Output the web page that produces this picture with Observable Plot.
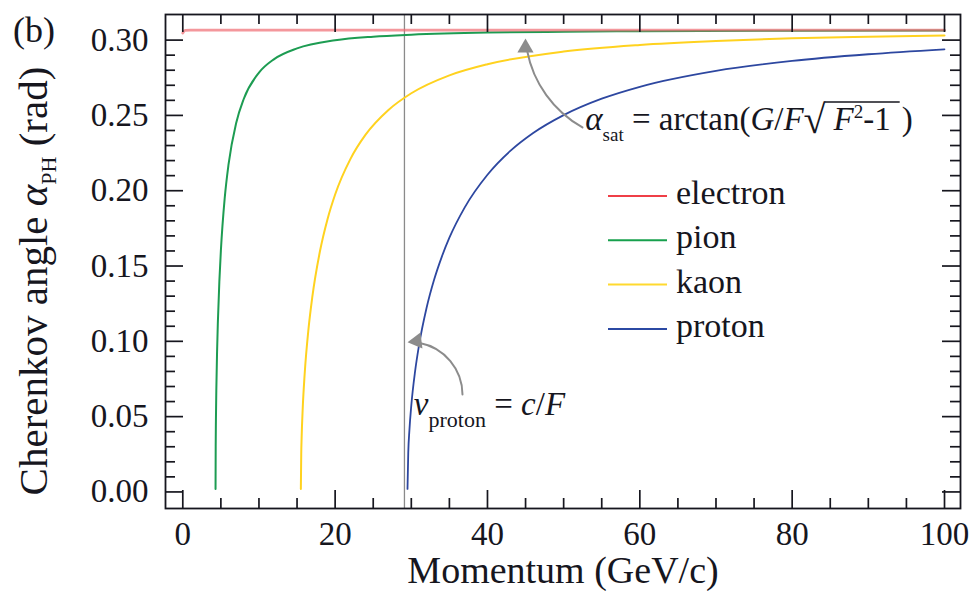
<!DOCTYPE html>
<html>
<head>
<meta charset="utf-8">
<script src="https://cdn.jsdelivr.net/npm/d3@7"></script>
<script src="https://cdn.jsdelivr.net/npm/@observablehq/plot@0.6"></script>
<style>
  html, body { margin: 0; padding: 0; background: #fff; }
</style>
</head>
<body>
<div id="chart"></div>
<script>
// Cherenkov angle alpha_PH (rad) versus particle momentum (GeV/c)
const electronP = [0, 0.3, 1, 10, 50, 100];
const electronAlpha = [0.3047, 0.3064, 0.3066, 0.3066, 0.3066, 0.3066];

const pionP = [4.3, 4.32, 4.35, 4.4, 4.5, 4.6, 4.8, 5, 5.5, 6, 7, 8, 10, 12, 15, 20, 25, 30, 40, 50, 60, 80, 100];
const pionAlpha = [0.002, 0.0304, 0.0478, 0.0670, 0.0930, 0.1120, 0.1398, 0.1602, 0.1949, 0.2173, 0.2448, 0.2609, 0.2784, 0.2874, 0.2945, 0.2999, 0.3023, 0.3036, 0.3050, 0.3055, 0.3059, 0.3062, 0.3063];

const kaonP = [15.5, 15.55, 15.6, 15.75, 16, 16.5, 17, 18, 19, 20, 22, 24, 27, 30, 35, 40, 50, 60, 70, 80, 90, 100];
const kaonAlpha = [0.002, 0.0254, 0.0358, 0.0561, 0.0783, 0.1081, 0.1293, 0.1596, 0.1811, 0.1975, 0.2210, 0.2372, 0.2536, 0.2647, 0.2766, 0.2840, 0.2924, 0.2968, 0.2994, 0.3012, 0.3023, 0.3031];

const protonP = [29.5, 29.6, 29.75, 30, 30.5, 31, 32, 33, 34, 35, 37, 40, 43, 46, 50, 55, 60, 70, 80, 90, 100];
const protonAlpha = [0.002, 0.0260, 0.0409, 0.0575, 0.0802, 0.0970, 0.1221, 0.1410, 0.1561, 0.1688, 0.1888, 0.2106, 0.2264, 0.2383, 0.2502, 0.2611, 0.2690, 0.2796, 0.2862, 0.2906, 0.2939];

// momentum at which v_proton = c/F
const protonThreshold = 29.1;

const species = ["electron", "pion", "kaon", "proton"];
const xTicks = [0, 20, 40, 60, 80, 100];
const yTicks = [0, 0.05, 0.10, 0.15, 0.20, 0.25, 0.30];

const series = {
  electron: {p: electronP, a: electronAlpha, stroke: "#ef6b72", width: 2.8, opacity: 0.7, key: "#ef3f47"},
  pion:     {p: pionP,     a: pionAlpha,     stroke: "#1d9c52", width: 2.0, opacity: 1,   key: "#17a04d"},
  kaon:     {p: kaonP,     a: kaonAlpha,     stroke: "#ffd21f", width: 2.0, opacity: 1,   key: "#ffd92f"},
  proton:   {p: protonP,   a: protonAlpha,   stroke: "#2d47a0", width: 1.8, opacity: 1,   key: "#2b49a3"}
};
const rows = s => series[s].p.map((p, i) => ({p, a: series[s].a[i]}));

const W = 973, H = 591;
const M = {top: 14, right: 13, bottom: 83, left: 165};
const innerW = W - M.left - M.right;
const innerH = H - M.top - M.bottom;
const majorLen = 18, minorLen = 10;
const xMinor = d3.range(0, 101, 5).filter(v => v % 20 !== 0);
const yMinor = d3.range(0, 31).map(v => v / 100).filter((v, i) => i % 5 !== 0);
const ink = "#16161e";
const tickStyle = {stroke: ink, strokeWidth: 1.7};
const serif = '"Liberation Serif", "Times New Roman", Times, serif';

const plot = Plot.plot({
  width: W,
  height: H,
  marginTop: M.top,
  marginRight: M.right,
  marginBottom: M.bottom,
  marginLeft: M.left,
  style: {fontFamily: serif, fontSize: "33px", color: ink, background: "#fff"},
  x: {domain: [-2.27, 102.1]},
  y: {domain: [-0.011, 0.317]},
  marks: [
    Plot.ruleX([protonThreshold], {stroke: "#8a8a8a", strokeWidth: 1.3}),
    ...["proton", "kaon", "pion", "electron"].map(s =>
      Plot.line(rows(s), {x: "p", y: "a", curve: "monotone-x",
        stroke: series[s].stroke, strokeWidth: series[s].width, strokeOpacity: series[s].opacity})),

    // curved annotation arrows
    Plot.arrow([{x1: 52.47, y1: 0.2420, x2: 44.99, y2: 0.3009}],
      {x1: "x1", y1: "y1", x2: "x2", y2: "y2", bend: 28, headLength: 0, insetEnd: 12,
       stroke: "#8c8c8c", strokeWidth: 2}),
    Plot.dot([{x: 44.99, y: 0.3009}], {x: "x", y: "y", symbol: "triangle", r: 6, rotate: 0, dy: 9,
       fill: "#8c8c8c", stroke: "none"}),
    Plot.arrow([{x1: 36.72, y1: 0.0647, x2: 29.54, y2: 0.0995}],
      {x1: "x1", y1: "y1", x2: "x2", y2: "y2", bend: -46, headLength: 0, insetEnd: 12,
       stroke: "#8c8c8c", strokeWidth: 2}),
    Plot.dot([{x: 29.54, y: 0.0995}], {x: "x", y: "y", symbol: "triangle", r: 6, rotate: -97, dx: 9, dy: -1,
       fill: "#8c8c8c", stroke: "none"}),

    // inward ticks on all four sides
    Plot.tickX(xTicks, {x: d => d, insetTop: innerH - majorLen, ...tickStyle}),
    Plot.tickX(xMinor, {x: d => d, insetTop: innerH - minorLen, ...tickStyle}),
    Plot.tickX(xTicks, {x: d => d, insetBottom: innerH - majorLen, ...tickStyle}),
    Plot.tickX(xMinor, {x: d => d, insetBottom: innerH - minorLen, ...tickStyle}),
    Plot.tickY(yTicks, {y: d => d, insetRight: innerW - majorLen, ...tickStyle}),
    Plot.tickY(yMinor, {y: d => d, insetRight: innerW - minorLen, ...tickStyle}),
    Plot.tickY(yTicks, {y: d => d, insetLeft: innerW - majorLen, ...tickStyle}),
    Plot.tickY(yMinor, {y: d => d, insetLeft: innerW - minorLen, ...tickStyle}),

    Plot.axisX(xTicks, {tickSize: 0, tickPadding: 13, fontSize: 33, label: null}),
    Plot.axisY(yTicks, {tickSize: 0, tickPadding: 17, fontSize: 33, tickFormat: d3.format(".2f"), label: null}),
    Plot.frame({stroke: ink, strokeWidth: 1.8})
  ]
});

document.getElementById("chart").append(plot);

const svg = d3.select(plot);
const xs = plot.scale("x"), ys = plot.scale("y");
const addText = (x, y, size) => svg.append("text")
  .attr("x", x).attr("y", y).attr("font-size", size)
  .attr("fill", ink).attr("text-anchor", "start").attr("font-family", serif);

// panel tag
addText(13, 42, 36).text("(b)");

// axis titles
addText(563, 583, 38).attr("text-anchor", "middle").text("Momentum (GeV/c)");

const yt = svg.append("text")
  .attr("transform", `translate(47,${M.top + innerH / 2 + 20}) rotate(-90)`)
  .attr("text-anchor", "middle").attr("font-size", 41).attr("fill", ink).attr("font-family", serif);
yt.append("tspan").text("Cherenkov angle ");
yt.append("tspan").attr("font-style", "italic").text("α");
yt.append("tspan").attr("font-size", 22).attr("dy", 9).text("PH");
yt.append("tspan").attr("dy", -9).text(" (rad)");

// saturation-angle formula
const eqX = xs.apply(52.9), eqY = ys.apply(0.24);
const eq = addText(eqX, eqY, 33);
eq.append("tspan").attr("font-style", "italic").text("α");
eq.append("tspan").attr("font-size", 19).attr("dy", 11).text("sat");
eq.append("tspan").attr("dy", -11).text(" = arctan(");
eq.append("tspan").attr("font-style", "italic").text("G");
eq.append("tspan").text("/");
eq.append("tspan").attr("font-style", "italic").text("F");
eq.append("tspan").attr("font-size", 40).attr("dy", 3).text("√");
const eqW = eq.node().getComputedTextLength();
const radX = eqX + eqW + 8;
const rad = addText(radX, eqY, 33);
rad.append("tspan").attr("font-style", "italic").text("F");
rad.append("tspan").attr("font-size", 19).attr("dy", -12).text("2");
rad.append("tspan").attr("dy", 12).text("-1");
const radW = rad.node().getComputedTextLength();
svg.append("line")
  .attr("x1", eqX + eqW - 1).attr("x2", radX + radW + 9)
  .attr("y1", eqY - 28).attr("y2", eqY - 28)
  .attr("stroke", ink).attr("stroke-width", 1.6);
addText(radX + radW + 11, eqY, 33).text(")");

// proton velocity label
const vp = addText(xs.apply(30.4), ys.apply(0.051), 33);
vp.append("tspan").attr("font-style", "italic").text("v");
vp.append("tspan").attr("font-size", 22).attr("dy", 12).text("proton");
vp.append("tspan").attr("dy", -12).text(" = ");
vp.append("tspan").attr("font-style", "italic").text("c");
vp.append("tspan").text("/");
vp.append("tspan").attr("font-style", "italic").text("F");

// legend
const legend = svg.append("g").attr("transform", "translate(608,196)");
species.forEach((s, i) => {
  const g = legend.append("g").attr("transform", `translate(0,${i * 44.3})`);
  g.append("line").attr("x1", 0).attr("x2", 59).attr("stroke", series[s].key).attr("stroke-width", 2);
  g.append("text").attr("x", 68).attr("y", 8).attr("font-size", 34).attr("fill", ink)
    .attr("text-anchor", "start").attr("font-family", serif).text(s);
});
</script>
</body>
</html>
